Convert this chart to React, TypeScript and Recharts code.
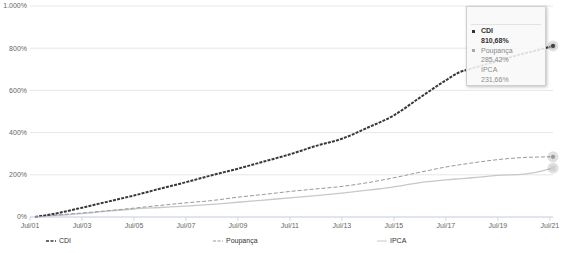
import React from "react";
import { LineChart, Line, XAxis, YAxis, CartesianGrid, Tooltip, Legend } from "recharts";

// decimal year of each sample
const dates = [2001.69, 2002.5, 2003.5, 2004.5, 2005.5, 2006.5, 2007.5, 2008.5, 2009.5, 2010.5, 2011.5, 2012.5, 2013.5, 2014.5, 2015.5, 2016.5, 2017.5, 2018.0, 2018.5, 2019.5, 2020.5, 2021.0, 2021.62];
const cdi = [0, 17, 44, 73, 102, 134, 165, 198, 229, 263, 297, 337, 371, 424, 482, 566, 648, 685, 704, 740, 775, 790, 810.68];
const poupanca = [0, 9, 19, 30, 42, 55, 67, 78, 94, 107, 121, 133, 145, 163, 186, 212, 237, 247, 256, 272, 282, 284, 285.42];
const ipca = [0, 7, 16, 28, 38, 45, 52, 60, 70, 80, 91, 101, 113, 127, 143, 163, 176, 181, 186, 197, 203, 213, 231.66];

const xTicks = [2001.5, 2003.5, 2005.5, 2007.5, 2009.5, 2011.5, 2013.5, 2015.5, 2017.5, 2019.5, 2021.5];
const xTickLabels = ["Jul/01", "Jul/03", "Jul/05", "Jul/07", "Jul/09", "Jul/11", "Jul/13", "Jul/15", "Jul/17", "Jul/19", "Jul/21"];
const yTicks = [0, 200, 400, 600, 800, 1000];

const seriesNames = ["CDI", "Poupança", "IPCA"];
const seriesKeys = ["cdi", "poupanca", "ipca"];
const seriesColors = ["#383838", "#999999", "#c8c8c8"];

const data = dates.map((d, i) => ({ date: d, cdi: cdi[i], poupanca: poupanca[i], ipca: ipca[i] }));
const lastIndex = data.length - 1;

const fmtPct = (v: number) => v.toFixed(2).replace(".", ",") + "%";
const fmtY = (v: number) => (v >= 1000 ? "1.000%" : v + "%");

const FONT = "'Liberation Sans', Arial, sans-serif";

const endDot = (kind: "circle" | "square", color: string) => (props: any) => {
  const { cx, cy, index } = props;
  if (index !== lastIndex) return <g key={`d${index}`} />;
  return (
    <g key={`d${index}`}>
      <circle cx={cx} cy={cy} r={5.5} fill="rgba(0,0,0,0.12)" />
      {kind === "circle" ? (
        <circle cx={cx} cy={cy} r={2.6} fill={color} stroke="#fff" strokeWidth={0.6} />
      ) : (
        <rect x={cx - 2.5} y={cy - 2.5} width={5} height={5} fill={color} />
      )}
    </g>
  );
};

const rowStyle: React.CSSProperties = { height: 9.8, lineHeight: "9.8px", whiteSpace: "nowrap" };

const TooltipBox = (props: any) => {
  const { payload } = props;
  const vals = [cdi[lastIndex], poupanca[lastIndex], ipca[lastIndex]];
  const p = payload && payload.length ? payload : null;
  const values = seriesKeys.map((k, i) => {
    const found = p ? p.find((x: any) => x.dataKey === k) : null;
    return found ? found.value : vals[i];
  });
  const bullet = (c: string) => (
    <span style={{ display: "inline-block", width: 3, height: 3, background: c, marginRight: 6, marginLeft: 1, verticalAlign: "middle" }} />
  );
  return (
    <div
      style={{
        width: 80,
        height: 80,
        boxSizing: "border-box",
        background: "rgba(248,248,248,0.88)",
        border: "1px solid #cfcfcf",
        boxShadow: "1px 1px 3px rgba(0,0,0,0.25)",
        fontFamily: FONT,
        fontSize: 7,
        padding: "0 4px",
        overflow: "hidden",
      }}
    >
      <div style={{ height: 17, borderBottom: "1px solid #e3e3e3" }} />
      <div style={{ paddingTop: 1 }}>
        <div style={{ ...rowStyle, color: "#333", fontWeight: "bold" }}>
          {bullet("#333")}CDI
        </div>
        <div style={{ ...rowStyle, color: "#333", fontWeight: "bold", paddingLeft: 10 }}>{fmtPct(values[0])}</div>
        <div style={{ ...rowStyle, color: "#888" }}>
          {bullet("#aaa")}Poupança
        </div>
        <div style={{ ...rowStyle, color: "#888", paddingLeft: 10 }}>{fmtPct(values[1])}</div>
        <div style={{ ...rowStyle, color: "#8c8c8c", paddingLeft: 10 }}>IPCA</div>
        <div style={{ ...rowStyle, color: "#8c8c8c", paddingLeft: 10 }}>{fmtPct(values[2])}</div>
      </div>
    </div>
  );
};

const LegendBox = () => (
  <div style={{ position: "relative", height: 20, width: 566, fontFamily: FONT, fontSize: 7 }}>
    {seriesNames.map((name, i) => (
      <div
        key={name}
        style={{
          position: "absolute",
          left: [46, 213, 377][i],
          top: 4,
          display: "flex",
          alignItems: "center",
          color: "#333",
        }}
      >
        <svg width={10} height={6} style={{ marginRight: 3 }}>
          <line
            x1={0}
            y1={3}
            x2={10}
            y2={3}
            stroke={seriesColors[i]}
            strokeWidth={i === 0 ? 1.6 : 1}
            strokeDasharray={i === 2 ? undefined : "3 1.5"}
          />
        </svg>
        <span>{name}</span>
      </div>
    ))}
  </div>
);

export default function App() {
  return (
    <div style={{ position: "absolute", left: 0, top: 0, width: 566, height: 253, background: "#fff" }}>
      <LineChart
        width={566}
        height={253}
        data={data}
        margin={{ top: 6, right: 13, left: 0, bottom: 0 }}
      >
        <CartesianGrid vertical={false} stroke="#e6e6e6" />
        <XAxis
          dataKey="date"
          type="number"
          domain={[2001.5, 2021.62]}
          ticks={xTicks}
          tickFormatter={(v: number) => xTickLabels[xTicks.indexOf(v)] ?? ""}
          height={16}
          tickSize={4}
          tickMargin={2}
          stroke="#ccd6eb"
          tick={{ fill: "#666", fontSize: 7, fontFamily: FONT }}
          interval={0}
        />
        <YAxis
          domain={[0, 1000]}
          ticks={yTicks}
          tickFormatter={fmtY}
          width={30}
          axisLine={false}
          tickLine={false}
          tickSize={0}
          tickMargin={3}
          tick={{ fill: "#666", fontSize: 7, fontFamily: FONT }}
        />
        <Tooltip
          defaultIndex={lastIndex}
          active
          cursor={false}
          position={{ x: 466, y: 6 }}
          content={<TooltipBox />}
          isAnimationActive={false}
          wrapperStyle={{ outline: "none" }}
        />
        <Legend verticalAlign="bottom" content={<LegendBox />} wrapperStyle={{ left: 0, width: 566, height: 20 }} />
        <Line
          type="monotone"
          dataKey="ipca"
          name="IPCA"
          stroke={seriesColors[2]}
          strokeWidth={1.3}
          dot={endDot("square", "#d0d0d0")}
          activeDot={false}
          isAnimationActive={false}
        />
        <Line
          type="monotone"
          dataKey="poupanca"
          name="Poupança"
          stroke={seriesColors[1]}
          strokeWidth={1}
          strokeDasharray="4 2"
          dot={endDot("circle", "#999")}
          activeDot={false}
          isAnimationActive={false}
        />
        <Line
          type="monotone"
          dataKey="cdi"
          name="CDI"
          stroke={seriesColors[0]}
          strokeWidth={2}
          strokeDasharray="3 1.2"
          dot={endDot("circle", "#444")}
          activeDot={false}
          isAnimationActive={false}
        />
      </LineChart>
    </div>
  );
}
